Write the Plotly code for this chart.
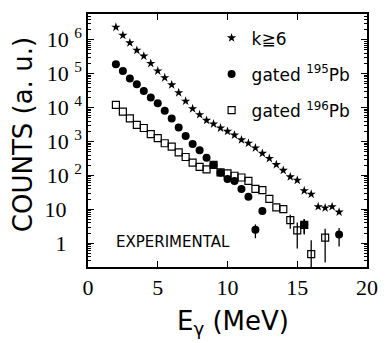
import plotly.graph_objects as go

# ---- data ----
e_star = [2.0, 2.5, 3.0, 3.5, 4.0, 4.5, 5.0, 5.5, 6.0, 6.5, 7.0, 7.5, 8.0, 8.5, 9.0, 9.5,
          10.0, 10.5, 11.0, 11.5, 12.0, 12.5, 13.0, 13.5, 14.0, 14.5, 15.0, 15.5, 16.0,
          16.5, 17.0, 17.5, 18.0]
counts_star = [2.34e6, 1.35e6, 8.1e5, 4.9e5, 3.3e5, 2.0e5, 1.2e5, 7.6e4, 4.7e4, 2.75e4,
               1.55e4, 9.3e3, 6.2e3, 4.2e3, 3.3e3, 2.5e3, 2.0e3, 1.55e3, 1.12e3, 890,
               645, 447, 316, 209, 141, 91, 72, 35.5, 28, 12, 11, 12, 8.3]

e_195 = [2.0, 2.5, 3.0, 3.5, 4.0, 4.5, 5.0, 5.5, 6.0, 6.5, 7.0, 7.5, 8.0, 8.5, 9.0, 9.5,
         10.0, 10.5, 11.0, 11.5, 12.0, 12.5, 15.5, 18.0]
counts_195 = [1.9e5, 1.2e5, 7.2e4, 4.9e4, 3.1e4, 2.0e4, 1.35e4, 8.1e3, 4.8e3, 2.6e3,
              1.45e3, 850, 550, 330, 204, 120, 78, 69, 40, 23.4, 2.5, 8.9, 3.5, 1.8]
err_195 = [0] * 20 + [1.1, 0, 1.7, 1.0]

e_196 = [2.0, 2.5, 3.0, 3.5, 4.0, 4.5, 5.0, 5.5, 6.0, 6.5, 7.0, 7.5, 8.0, 8.5, 9.0, 9.5,
         10.0, 10.5, 11.0, 11.5, 12.0, 12.5, 13.0, 13.5, 14.0, 14.5, 15.0, 15.5, 16.0, 17.0]
counts_196 = [12000, 7600, 4800, 3100, 2500, 1660, 1260, 890, 710, 480, 350, 240, 178,
              151, 204, 123, 115, 98, 87, 69, 40, 37, 20.4, 11.5, 10.2, 4.8, 2.4, 3.5,
              0.48, 1.47]
err_196 = [0] * 25 + [2.1, 1.7, 1.6, 0.75, 1.2]

x_ticks = [0, 5, 10, 15, 20]
x_ticklabels = ["0", "5", "10", "15", "20"]
y_ticks = [1, 10, 100, 1e3, 1e4, 1e5, 1e6]
y_ticklabels = ["1\u2002\u2009", "10\u2002\u2009", "10 <sup>2</sup>", "10 <sup>3</sup>",
                "10 <sup>4</sup>", "10 <sup>5</sup>", "10 <sup>6</sup>"]

SANS = "DejaVu Sans"
SERIF = "Liberation Serif"

fig = go.Figure()
fig.add_trace(go.Scatter(
    x=e_star, y=counts_star, mode="markers", name="k\u22676", legendgroup="a",
    marker=dict(symbol="star", size=7, color="black", line=dict(width=0)),
))
fig.add_trace(go.Scatter(
    x=e_195, y=counts_195, mode="markers", name="gated <sup>195</sup>Pb", legendgroup="b",
    marker=dict(symbol="circle", size=8, color="black", line=dict(width=0)),
    error_y=dict(type="data", array=err_195, visible=True, color="black",
                 thickness=1.3, width=0),
))
fig.add_trace(go.Scatter(
    x=e_196, y=counts_196, mode="markers", name="gated <sup>196</sup>Pb", legendgroup="c",
    marker=dict(symbol="square-open", size=7, color="black", line=dict(width=1.2)),
    error_y=dict(type="data", array=err_196, visible=True, color="black",
                 thickness=1.3, width=0),
))

axis_common = dict(showline=True, linecolor="black", linewidth=1.5, mirror="ticks",
                   ticks="inside", ticklen=6, tickwidth=1.2, tickcolor="black",
                   showgrid=False, zeroline=False)

fig.update_xaxes(range=[0, 20], tickvals=x_ticks, ticktext=x_ticklabels,
                 tickfont=dict(family=SERIF, size=22, color="black"), **axis_common)
fig.update_yaxes(type="log", range=[-0.70, 6.76], tickvals=y_ticks, ticktext=y_ticklabels,
                 tickfont=dict(family=SERIF, size=22, color="black"),
                 minor=dict(ticks="inside", ticklen=3, tickwidth=1, tickcolor="black",
                            dtick="D1", showgrid=False),
                 **axis_common)

fig.update_layout(
    width=390, height=343,
    margin=dict(l=88, r=13, t=12, b=76),
    paper_bgcolor="white", plot_bgcolor="white",
    showlegend=True,
    legend=dict(x=0.443, y=0.975, xanchor="left", yanchor="top",
                font=dict(family=SANS, size=17, color="black"),
                bgcolor="rgba(0,0,0,0)", tracegroupgap=11, traceorder="grouped"),
    annotations=[
        dict(text="COUNTS (a. u.)", x=-0.232, y=0.522, xref="paper", yref="paper",
             textangle=-90, showarrow=False, xanchor="center", yanchor="middle",
             font=dict(family=SANS, size=26, color="black")),
        dict(text="E<sub>\u03b3</sub> (MeV)", x=0.52, y=-0.22, xref="paper", yref="paper",
             showarrow=False, xanchor="center", yanchor="middle",
             font=dict(family=SANS, size=26, color="black")),
        dict(text="EXPERIMENTAL", x=0.306, y=0.098, xref="paper", yref="paper",
             showarrow=False, xanchor="center", yanchor="middle",
             font=dict(family=SANS, size=15, color="black")),
    ],
)

fig.write_html("out.html")
